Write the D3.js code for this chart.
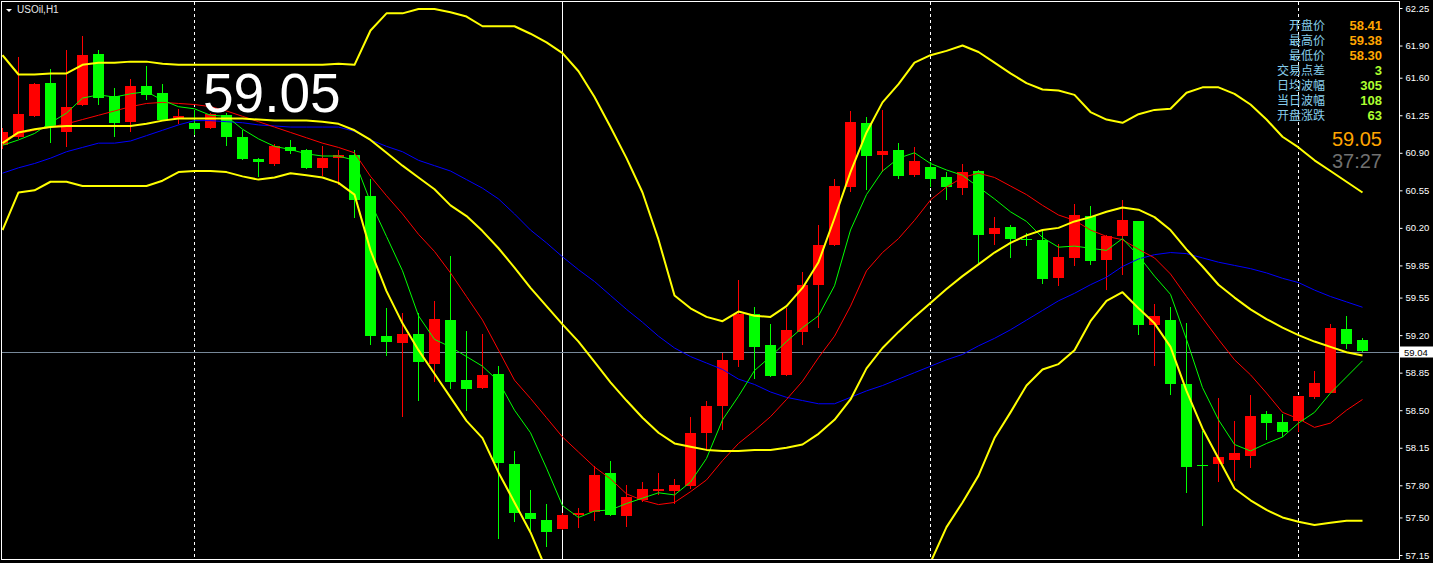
<!DOCTYPE html>
<html>
<head>
<meta charset="utf-8">
<script src="https://cdn.jsdelivr.net/npm/d3@7/dist/d3.min.js"></script>
<style>
  html, body { margin: 0; padding: 0; background: #000; }
  svg { display: block; }
</style>
</head>
<body>
<svg id="chart" width="1433" height="563"></svg>
<script>
// ---------------- DATA (USOil, H1) ----------------
const open = [60.97,61.05,61.24,61.55,61.09,61.35,61.82,61.43,61.19,61.52,
61.46,61.22,61.18,61.13,61.25,61.05,60.84,60.80,60.95,60.93,
60.76,60.85,60.88,60.50,59.19,59.13,59.21,58.93,59.34,58.78,
58.71,58.84,58.00,57.54,57.48,57.39,57.52,57.55,57.91,57.51,
57.66,57.75,57.75,57.79,58.29,58.54,58.97,59.40,59.11,58.83,
59.23,59.67,60.04,60.58,61.18,60.88,60.93,60.69,60.77,60.67,
60.57,60.73,60.14,60.21,60.10,60.09,59.73,59.92,60.31,59.90,
60.12,60.26,59.29,59.34,58.74,57.99,58.00,58.04,58.07,58.46,
58.39,58.40,58.62,58.66,59.26,59.15];
const close = [61.09,61.26,61.54,61.14,61.33,61.81,61.41,61.18,61.52,61.44,
61.21,61.24,61.12,61.26,61.05,60.84,60.81,60.96,60.92,60.76,
60.85,60.88,60.46,59.19,59.14,59.21,58.95,59.35,58.76,58.70,
58.83,58.01,57.54,57.49,57.36,57.52,57.54,57.90,57.52,57.69,
57.77,57.77,57.80,58.29,58.54,58.97,59.40,59.09,58.82,59.25,
59.67,60.04,60.59,61.19,60.87,60.92,60.68,60.82,60.66,60.58,
60.72,60.13,60.20,60.10,60.09,59.72,59.93,60.32,59.89,60.12,
60.27,59.29,59.38,58.74,57.97,57.98,58.06,58.10,58.45,58.38,
58.30,58.63,58.75,59.27,59.12,59.05];
const high = [61.13,61.79,61.55,61.68,61.86,61.99,61.86,61.50,61.59,61.71,
61.54,61.31,61.30,61.27,61.27,61.11,60.85,60.98,61.02,60.94,
60.96,60.93,60.93,60.66,59.45,59.41,59.41,59.52,59.94,59.24,
59.21,58.91,58.12,57.76,57.63,57.54,57.59,57.98,58.03,57.80,
57.83,57.91,57.86,58.44,58.59,59.03,59.71,59.46,59.30,59.45,
59.79,60.23,60.66,61.29,61.23,61.30,60.99,60.95,60.81,60.72,
60.80,60.74,60.30,60.23,60.15,60.17,60.05,60.42,60.40,60.13,
60.46,60.26,59.49,59.46,59.31,58.31,58.61,58.40,58.64,58.49,
58.46,58.63,58.87,59.30,59.38,59.17];
const low = [60.94,61.03,61.23,60.99,60.95,61.34,61.35,61.05,61.09,61.39,
61.20,61.17,61.07,61.12,60.96,60.83,60.67,60.78,60.89,60.75,
60.68,60.60,60.29,59.11,59.01,58.44,58.59,58.76,58.70,58.49,
58.70,57.30,57.46,57.37,57.22,57.38,57.40,57.47,57.51,57.41,
57.64,57.71,57.63,57.77,58.13,58.32,58.90,58.79,58.81,58.82,
59.11,59.27,60.03,60.53,60.55,60.72,60.66,60.67,60.58,60.46,
60.51,59.87,60.04,59.92,60.03,59.68,59.66,59.84,59.85,59.62,
59.76,59.20,58.91,58.64,57.73,57.42,57.83,57.84,57.96,58.22,
58.25,58.30,58.60,58.66,59.07,59.04];

// Bollinger bands (yellow)
const bbUpper = [61.81,61.63,61.63,61.64,61.64,61.72,61.74,61.74,61.75,61.75,
61.73,61.72,61.72,61.72,61.72,61.72,61.72,61.72,61.72,61.72,
61.72,61.73,61.72,62.04,62.20,62.20,62.24,62.24,62.21,62.17,
62.08,62.08,62.08,62.01,61.93,61.83,61.66,61.42,61.14,60.85,
60.53,60.09,59.57,59.45,59.37,59.33,59.42,59.38,59.37,59.47,
59.64,59.88,60.29,60.72,61.09,61.37,61.54,61.74,61.81,61.85,
61.90,61.84,61.74,61.64,61.55,61.49,61.48,61.44,61.28,61.21,
61.18,61.26,61.30,61.31,61.46,61.51,61.51,61.45,61.35,61.21,
61.05,60.95,60.83,60.73,60.63,60.53];
const bbMid = [60.99,61.09,61.12,61.14,61.15,61.15,61.15,61.15,61.15,61.17,
61.20,61.22,61.22,61.22,61.22,61.22,61.21,61.20,61.20,61.20,
61.19,61.17,61.11,61.02,60.90,60.78,60.67,60.56,60.41,60.31,
60.17,60.01,59.83,59.64,59.47,59.30,59.14,58.95,58.76,58.59,
58.43,58.29,58.19,58.16,58.13,58.12,58.12,58.13,58.13,58.15,
58.18,58.28,58.41,58.60,58.89,59.08,59.23,59.37,59.50,59.63,
59.75,59.86,59.97,60.06,60.13,60.18,60.20,60.26,60.30,60.35,
60.39,60.37,60.30,60.18,60.00,59.84,59.67,59.55,59.44,59.35,
59.27,59.20,59.14,59.09,59.04,59.01];
const bbLower = [60.18,60.53,60.55,60.63,60.63,60.59,60.59,60.59,60.59,60.59,
60.64,60.72,60.73,60.73,60.72,60.68,60.65,60.67,60.71,60.69,
60.67,60.62,60.51,59.99,59.61,59.31,59.06,58.84,58.62,58.40,
58.24,57.92,57.64,57.36,57.01,56.78,56.61,56.48,56.39,56.32,
56.33,56.49,56.81,56.86,56.89,56.91,56.82,56.88,56.89,56.82,
56.73,56.67,56.53,56.47,56.69,56.88,56.92,57.00,57.08,57.41,
57.64,57.89,58.24,58.48,58.73,58.88,58.93,59.06,59.33,59.52,
59.60,59.45,59.31,59.09,58.68,58.33,58.05,57.77,57.66,57.57,
57.50,57.46,57.43,57.45,57.47,57.47];
// Moving averages
const maBlue = [60.71,60.76,60.80,60.85,60.91,60.95,60.99,60.99,61.01,61.06,
61.11,61.16,61.20,61.20,61.19,61.18,61.16,61.15,61.14,61.14,
61.14,61.14,61.10,61.02,60.96,60.91,60.83,60.78,60.73,60.65,
60.57,60.47,60.33,60.18,60.06,59.93,59.81,59.70,59.57,59.44,
59.32,59.19,59.08,59.00,58.94,58.88,58.79,58.74,58.67,58.62,
58.59,58.56,58.56,58.62,58.68,58.73,58.79,58.85,58.91,58.97,
59.02,59.10,59.17,59.25,59.34,59.43,59.52,59.59,59.67,59.74,
59.84,59.91,59.95,59.97,59.96,59.92,59.88,59.85,59.82,59.78,
59.73,59.69,59.62,59.56,59.51,59.46];
const maRed = [61.02,61.08,61.11,61.14,61.17,61.21,61.25,61.29,61.33,61.36,
61.37,61.36,61.35,61.33,61.29,61.24,61.19,61.14,61.09,61.04,
60.99,60.95,60.90,60.68,60.50,60.33,60.14,59.98,59.78,59.56,
59.34,59.06,58.78,58.61,58.43,58.25,58.11,57.97,57.86,57.72,
57.66,57.62,57.64,57.74,57.85,58.03,58.19,58.31,58.44,58.60,
58.77,58.99,59.19,59.47,59.80,59.97,60.10,60.27,60.46,60.58,
60.67,60.71,60.67,60.59,60.51,60.41,60.32,60.27,60.18,60.12,
60.09,60.00,59.92,59.77,59.56,59.36,59.16,58.97,58.83,58.66,
58.48,58.42,58.34,58.38,58.50,58.60];
const maGreen = [60.97,61.02,61.08,61.18,61.27,61.41,61.44,61.42,61.45,61.47,
61.39,61.33,61.31,61.25,61.24,61.12,61.03,60.96,60.93,60.89,
60.87,60.87,60.83,60.44,60.12,59.80,59.38,59.16,59.09,59.00,
58.91,58.77,58.50,58.29,57.96,57.61,57.50,57.56,57.57,57.63,
57.68,57.73,57.71,57.83,58.05,58.41,58.63,58.87,59.00,59.14,
59.27,59.38,59.66,60.18,60.51,60.73,60.85,60.90,60.80,60.74,
60.69,60.58,60.47,60.35,60.26,60.11,60.02,60.03,60.01,59.99,
60.10,59.94,59.75,59.58,59.16,58.71,58.41,58.18,58.12,58.19,
58.25,58.38,58.48,58.66,58.81,58.96];

const yTicks = [62.25,61.90,61.60,61.25,60.90,60.55,60.20,59.85,59.55,59.20,58.85,58.50,58.15,57.80,57.50,57.15];
const bidPrice = 59.04;
const dashedSeparators = [12, 58, 81];   // day separators (bar index)
const solidSeparators = [35];
const symbolLabel = "USOil,H1";
const bigPrice = "59.05";
const infoLabels = ["开盘价","最高价","最低价","交易点差","日均波幅","当日波幅","开盘涨跌"];
const infoValues = ["58.41","59.38","58.30","3","305","108","63"];
const infoKinds  = ["price","price","price","stat","stat","stat","stat"];
const priceNow = "59.05";
const countdown = "37:27";

// ---------------- DRAWING ----------------
const svg = d3.select("#chart");
const W = 1433, H = 563;
const plot = {left: 1.5, top: 1.5, right: 1399.5, bottom: 559.5};

svg.append("rect").attr("width", W).attr("height", H).attr("fill", "#000");

const n = close.length;
const x = d3.scaleLinear().domain([0, n - 1]).range([2.5, 1362.5]);
const y = d3.scaleLinear().domain([57.15, 62.25]).range([555, 8]);

svg.append("defs").append("clipPath").attr("id", "clip")
  .append("rect").attr("x", plot.left + 0.5).attr("y", plot.top + 0.5)
  .attr("width", plot.right - plot.left - 1).attr("height", plot.bottom - plot.top - 1);

const g = svg.append("g").attr("clip-path", "url(#clip)");

// separators
g.selectAll("line.sepd").data(dashedSeparators).join("line")
  .attr("x1", d => x(d)).attr("x2", d => x(d))
  .attr("y1", plot.top).attr("y2", plot.bottom)
  .attr("stroke", "#fff").attr("stroke-width", 1).attr("stroke-dasharray", "3,3")
  .attr("shape-rendering", "crispEdges");
g.selectAll("line.seps").data(solidSeparators).join("line")
  .attr("x1", d => x(d)).attr("x2", d => x(d))
  .attr("y1", plot.top).attr("y2", plot.bottom)
  .attr("stroke", "#fff").attr("stroke-width", 1)
  .attr("shape-rendering", "crispEdges");

// bid line
g.append("line")
  .attr("x1", plot.left).attr("x2", plot.right)
  .attr("y1", Math.round(y(bidPrice)) + 0.5).attr("y2", Math.round(y(bidPrice)) + 0.5)
  .attr("stroke", "#778899").attr("stroke-width", 1);

// candles
const idx = d3.range(n);
const up = i => close[i] >= open[i];
const col = i => up(i) ? "#ff0000" : "#00ff00";
g.selectAll("rect.wick").data(idx).join("rect")
  .attr("x", i => x(i) - 0.5).attr("width", 1)
  .attr("y", i => y(high[i])).attr("height", i => Math.max(1, y(low[i]) - y(high[i])))
  .attr("fill", col).attr("shape-rendering", "crispEdges");
g.selectAll("rect.body").data(idx).join("rect")
  .attr("x", i => x(i) - 5.5).attr("width", 11)
  .attr("y", i => y(Math.max(open[i], close[i])))
  .attr("height", i => Math.max(1.5, Math.abs(y(open[i]) - y(close[i]))))
  .attr("fill", col).attr("shape-rendering", "crispEdges");

// indicator lines
const line = d3.line().x((d, i) => x(i)).y(d => y(d));
const series = [
  {v: maBlue, c: "#0000ff", w: 1},
  {v: maRed, c: "#ff0000", w: 1},
  {v: maGreen, c: "#00ff00", w: 1},
  {v: bbUpper, c: "#ffff00", w: 2},
  {v: bbMid, c: "#ffff00", w: 2},
  {v: bbLower, c: "#ffff00", w: 2}
];
g.selectAll("path.ind").data(series).join("path")
  .attr("d", d => line(d.v))
  .attr("fill", "none").attr("stroke", d => d.c).attr("stroke-width", d => d.w)
  .attr("stroke-linejoin", "round");

// frame
svg.append("rect")
  .attr("x", plot.left).attr("y", plot.top)
  .attr("width", plot.right - plot.left).attr("height", plot.bottom - plot.top)
  .attr("fill", "none").attr("stroke", "#fff").attr("stroke-width", 1);

// right axis
const axis = d3.axisRight(y).tickValues(yTicks).tickFormat(d3.format(".2f")).tickSize(3).tickPadding(3);
const ag = svg.append("g").attr("transform", `translate(${plot.right},0)`).call(axis);
ag.select(".domain").remove();
ag.selectAll(".tick line").attr("stroke", "#fff");
ag.selectAll(".tick text").attr("fill", "#fff")
  .style("font-family", "'Liberation Sans', Arial, sans-serif").style("font-size", "9.5px");

// bid label box
const by = Math.round(y(bidPrice));
svg.append("rect").attr("x", 1400).attr("y", by - 5.5).attr("width", 33).attr("height", 11).attr("fill", "#fff");
svg.append("text").attr("x", 1404).attr("y", by + 3.5).text(d3.format(".2f")(bidPrice))
  .attr("fill", "#000").style("font-family", "'Liberation Sans', Arial, sans-serif").style("font-size", "9.5px");

// symbol
svg.append("path").attr("d", "M6,9 L12,9 L9,12 Z").attr("fill", "#fff");
svg.append("text").attr("x", 17).attr("y", 13).text(symbolLabel)
  .attr("fill", "#e6e6e6").style("font-family", "'Liberation Sans', Arial, sans-serif").style("font-size", "10px");

// big price
svg.append("text").attr("x", 203).attr("y", 112).text(bigPrice)
  .attr("fill", "#fff").style("font-family", "'Liberation Sans', Arial, sans-serif").style("font-size", "55px");

// info panel
const rowY = d3.scaleLinear().domain([0, infoLabels.length - 1]).range([25, 115]);
svg.selectAll("text.lab").data(infoLabels).join("text")
  .attr("x", 1325).attr("y", (d, i) => rowY(i) + 4.5).attr("text-anchor", "end")
  .text(d => d).attr("fill", "#87ceeb")
  .style("font-family", "'Noto Sans CJK SC', sans-serif").style("font-size", "12px");
svg.selectAll("text.val").data(infoValues).join("text")
  .attr("x", 1382).attr("y", (d, i) => rowY(i) + 5).attr("text-anchor", "end")
  .text(d => d).attr("fill", (d, i) => infoKinds[i] === "price" ? "#ffa500" : "#adff2f")
  .style("font-family", "'Liberation Sans', Arial, sans-serif").style("font-size", "13px").style("font-weight", "bold");

svg.append("text").attr("x", 1382).attr("y", 146).attr("text-anchor", "end").text(priceNow)
  .attr("fill", "#ffa500").style("font-family", "'Liberation Sans', Arial, sans-serif").style("font-size", "20px");
svg.append("text").attr("x", 1382).attr("y", 168).attr("text-anchor", "end").text(countdown)
  .attr("fill", "#707070").style("font-family", "'Liberation Sans', Arial, sans-serif").style("font-size", "20px");
</script>
</body>
</html>
